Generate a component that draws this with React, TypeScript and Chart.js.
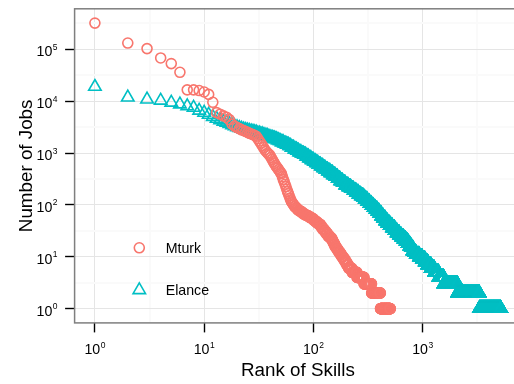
import React, { useEffect, useRef } from 'react';
import { Chart, registerables } from 'chart.js';

Chart.register(...registerables);

// Skill rank vs. number of jobs requiring that skill, per marketplace.
// Stored as runs: every rank after the previous run's last rank, up to and
// including lastRank[i], has jobs[i] jobs.
const mturkLastRank = [
  1, 2, 3, 4, 5, 6, 7, 8, 9, 10, 11, 12, 13, 14, 15, 16, 17, 18, 19, 20,
  21, 22, 23, 24, 25, 26, 27, 28, 29, 30, 31, 32, 33, 34, 35, 36, 37, 38, 39, 40,
  41, 42, 43, 44, 45, 46, 47, 48, 49, 50, 51, 52, 53, 54, 55, 56, 57, 58, 59, 60,
  61, 62, 63, 64, 65, 66, 68, 70, 72, 75, 78, 80, 83, 86, 89, 92, 96, 100, 104, 108,
  112, 116, 120, 125, 130, 135, 141, 147, 150, 153, 156, 160, 163, 167, 171, 176, 181, 187, 194, 201,
  209, 225, 250, 290, 340, 410, 505,
];
const mturkJobs = [
  320000, 132000, 103000, 68000, 53000, 36000, 16500, 16500, 16000, 15000, 13500, 9500, 6000, 5600, 5200, 4900, 4400, 3600, 3300, 3100,
  2950, 2800, 2700, 2600, 2500, 2400, 2330, 2250, 2180, 2100, 1900, 1700, 1550, 1400, 1270, 1150, 1070, 1000, 950, 900,
  820, 750, 680, 630, 580, 540, 510, 480, 450, 420, 400, 350, 310, 280, 250, 225, 200, 180, 165, 150,
  135, 125, 115, 110, 105, 100, 94, 88, 83, 78, 74, 70, 67, 64, 62, 60, 57, 54, 50, 47,
  44, 42, 38, 34, 31, 28, 25, 23, 21, 19, 18, 16, 15, 14, 13, 12, 11, 10, 9, 8,
  7, 6, 5, 4, 3, 2, 1,
];

const elanceLastRank = [
  1, 2, 3, 4, 5, 6, 7, 8, 9, 10, 11, 12, 13, 14, 15, 16, 17, 18, 19, 20,
  21, 22, 23, 24, 25, 26, 27, 28, 29, 30, 32, 34, 36, 38, 40, 42, 44, 46, 48, 50,
  53, 56, 59, 62, 66, 70, 73, 77, 81, 85, 90, 95, 100, 105, 110, 116, 122, 128, 135, 142,
  150, 158, 166, 175, 185, 195, 208, 220, 232, 245, 258, 272, 285, 295, 310, 325, 340, 355, 370, 385,
  400, 418, 435, 455, 475, 500, 525, 553, 580, 610, 640, 670, 700, 730, 760, 785, 810, 842, 870, 900, 930,
  990, 1050, 1110, 1190, 1280, 1400, 1560, 2080, 3300, 5200,
];
const elanceJobs = [
  19000, 11800, 10800, 10300, 9400, 8700, 8000, 7500, 6600, 6000, 5500, 5000, 4600, 4300, 4050, 3850, 3650, 3450, 3300, 3150,
  3050, 2950, 2870, 2800, 2740, 2680, 2630, 2580, 2540, 2500, 2400, 2310, 2220, 2140, 2060, 1990, 1920, 1850, 1780, 1710,
  1620, 1530, 1450, 1370, 1270, 1180, 1110, 1040, 980, 930, 860, 800, 740, 690, 645, 600, 560, 520, 480, 450,
  415, 380, 350, 320, 292, 268, 242, 222, 205, 190, 175, 160, 150, 140, 128, 116, 106, 97, 89, 82,
  75, 68, 61, 55, 49, 44, 40, 36, 32, 29, 26, 24, 22, 20, 18, 16, 15, 13, 12, 11, 11,
  10, 9, 8, 7, 6, 5, 4, 3, 2, 1,
];

const seriesLabels = ['Mturk', 'Elance'];
const xTitle = 'Rank of Skills';
const yTitle = 'Number of Jobs';

const FONT = '"Liberation Sans", Arial, Helvetica, sans-serif';
const RED = '#F8766D';
const TEAL = '#00BFC4';
const TICK_FONT = 14.2;
const SUP_FONT = 8.5;
const TITLE_FONT = 18.8;

// one point per skill rank
function expandRuns(lastRank: number[], jobs: number[]) {
  const pts: { x: number; y: number }[] = [];
  let r = 1;
  lastRank.forEach((end, i) => {
    for (; r <= end; r++) pts.push({ x: r, y: jobs[i] });
  });
  return pts;
}

// 5% expansion of the data range in log space
function logLimits(values: number[]): [number, number] {
  const lo = Math.log10(Math.min(...values));
  const hi = Math.log10(Math.max(...values));
  const pad = (hi - lo) * 0.05;
  return [10 ** (lo - pad), 10 ** (hi + pad)];
}

// decade (major) and half-decade (minor) breaks within the limits
function logBreaks(min: number, max: number) {
  const out: { value: number; major: boolean }[] = [];
  const k0 = Math.ceil(Math.log10(min) * 2 - 1e-9);
  const k1 = Math.floor(Math.log10(max) * 2 + 1e-9);
  for (let k = k0; k <= k1; k++) out.push({ value: 10 ** (k / 2), major: k % 2 === 0 });
  return out;
}

const isMajor = (v?: number) =>
  v !== undefined && Math.abs(Math.log10(v) - Math.round(Math.log10(v))) < 1e-6;

function drawMarker(ctx: CanvasRenderingContext2D, style: string, x: number, y: number, r: number) {
  ctx.beginPath();
  if (style === 'triangle') {
    let rad = 0;
    for (let i = 0; i < 3; i++) {
      const px = x + Math.sin(rad) * r;
      const py = y - Math.cos(rad) * r;
      if (i === 0) ctx.moveTo(px, py);
      else ctx.lineTo(px, py);
      rad += (2 * Math.PI) / 3;
    }
    ctx.closePath();
  } else {
    ctx.arc(x, y, r, 0, Math.PI * 2);
  }
  ctx.stroke();
}

// "10" with a raised exponent
function drawPower(ctx: CanvasRenderingContext2D, exp: number, x: number, baseY: number, supY: number, align: 'center' | 'right') {
  ctx.font = `${TICK_FONT}px ${FONT}`;
  const bw = ctx.measureText('10').width;
  ctx.font = `${SUP_FONT}px ${FONT}`;
  const sw = ctx.measureText(String(exp)).width;
  const total = bw + 0.4 + sw;
  const left = align === 'center' ? x - total / 2 : x - total;
  ctx.textAlign = 'left';
  ctx.textBaseline = 'alphabetic';
  ctx.font = `${TICK_FONT}px ${FONT}`;
  ctx.fillText('10', left, baseY);
  ctx.font = `${SUP_FONT}px ${FONT}`;
  ctx.fillText(String(exp), left + bw + 0.4, supY);
}

const panelDecor = {
  id: 'panelDecor',
  afterDatasetsDraw(chart: any) {
    const { ctx, chartArea: a } = chart;
    ctx.save();
    ctx.strokeStyle = '#7F7F7F';
    ctx.lineWidth = 1.5;
    ctx.strokeRect(a.left, a.top, a.right - a.left, a.bottom - a.top);
    ctx.restore();
  },
  afterDraw(chart: any) {
    const { ctx, chartArea: a } = chart;
    const xs = chart.scales.x;
    const ys = chart.scales.y;
    ctx.save();
    ctx.fillStyle = '#000000';

    for (const t of xs.ticks) {
      if (!isMajor(t.value)) continue;
      const px = xs.getPixelForValue(t.value);
      drawPower(ctx, Math.round(Math.log10(t.value)), px, a.bottom + 31.1, a.bottom + 24.6, 'center');
    }
    for (const t of ys.ticks) {
      if (!isMajor(t.value)) continue;
      const py = ys.getPixelForValue(t.value);
      drawPower(ctx, Math.round(Math.log10(t.value)), a.left - 17.1, py + 7, py + 0.5, 'right');
    }

    ctx.font = `${TITLE_FONT}px ${FONT}`;
    ctx.textAlign = 'center';
    ctx.textBaseline = 'alphabetic';
    ctx.fillText(xTitle, (a.left + a.right) / 2, a.bottom + 53.3);
    ctx.save();
    ctx.translate(32, (a.top + a.bottom) / 2);
    ctx.rotate(-Math.PI / 2);
    ctx.fillText(yTitle, 0, 0);
    ctx.restore();

    // legend inside the panel
    const keyX = a.left + 64.7;
    const rows = [a.top + 239, a.top + 281.2];
    chart.data.datasets.forEach((ds: any, i: number) => {
      ctx.strokeStyle = ds.pointBorderColor;
      ctx.lineWidth = ds.pointBorderWidth;
      drawMarker(ctx, ds.pointStyle, keyX, rows[i], ds.pointRadius);
      ctx.fillStyle = '#000000';
      ctx.font = `${TICK_FONT}px ${FONT}`;
      ctx.textAlign = 'left';
      ctx.textBaseline = 'alphabetic';
      ctx.fillText(ds.label, a.left + 91.1, rows[i] + 5.2);
    });
    ctx.restore();
  },
};

export default function App() {
  const ref = useRef<HTMLCanvasElement>(null);

  useEffect(() => {
    const canvas = ref.current;
    if (!canvas) return;
    const mturk = expandRuns(mturkLastRank, mturkJobs);
    const elance = expandRuns(elanceLastRank, elanceJobs);
    const [xMin, xMax] = logLimits([1, mturkLastRank[mturkLastRank.length - 1], elanceLastRank[elanceLastRank.length - 1]]);
    const [yMin, yMax] = logLimits([...mturkJobs, ...elanceJobs]);

    const grid = {
      color: (c: any) => (isMajor(c.tick?.value) ? '#E5E5E5' : '#FAFAFA'),
      lineWidth: (c: any) => (isMajor(c.tick?.value) ? 1 : 2),
      tickColor: (c: any) => (isMajor(c.tick?.value) ? '#000000' : 'rgba(0,0,0,0)'),
      tickWidth: 1.4,
      tickLength: 9.5,
      drawTicks: true,
      drawOnChartArea: true,
    };

    const chart = new Chart(canvas, {
      type: 'scatter',
      data: {
        datasets: [
          {
            label: seriesLabels[0],
            data: mturk,
            pointStyle: 'circle',
            pointRadius: 5,
            pointBorderWidth: 1.6,
            pointBorderColor: RED,
            pointBackgroundColor: 'rgba(0,0,0,0)',
            showLine: false,
          },
          {
            label: seriesLabels[1],
            data: elance,
            pointStyle: 'triangle',
            pointRadius: 7.2,
            pointBorderWidth: 1.6,
            pointBorderColor: TEAL,
            pointBackgroundColor: 'rgba(0,0,0,0)',
            showLine: false,
          },
        ],
      },
      options: {
        responsive: false,
        animation: false,
        devicePixelRatio: 1,
        events: [],
        layout: { padding: { left: 0, top: 5.0, right: 5.8, bottom: 0 } },
        plugins: { legend: { display: false }, tooltip: { enabled: false } },
        scales: {
          x: {
            type: 'logarithmic',
            position: 'bottom',
            min: xMin,
            max: xMax,
            bounds: 'data',
            afterBuildTicks: (s: any) => {
              s.ticks = logBreaks(xMin, xMax);
            },
            afterFit: (s: any) => {
              s.height = 61.1;
            },
            ticks: { display: false, autoSkip: false },
            border: { display: false },
            grid,
          },
          y: {
            type: 'logarithmic',
            position: 'left',
            min: yMin,
            max: yMax,
            bounds: 'data',
            afterBuildTicks: (s: any) => {
              s.ticks = logBreaks(yMin, yMax);
            },
            afterFit: (s: any) => {
              s.width = 74.6;
            },
            ticks: { display: false, autoSkip: false },
            border: { display: false },
            grid,
          },
        },
      } as any,
      plugins: [panelDecor],
    });

    return () => chart.destroy();
  }, []);

  return (
    <div
      style={{
        position: 'fixed',
        left: 0,
        top: 0,
        width: 514,
        height: 384,
        overflow: 'hidden',
        background: '#ffffff',
      }}
    >
      <canvas ref={ref} width={530} height={384} style={{ display: 'block', width: 530, height: 384 }} />
    </div>
  );
}
